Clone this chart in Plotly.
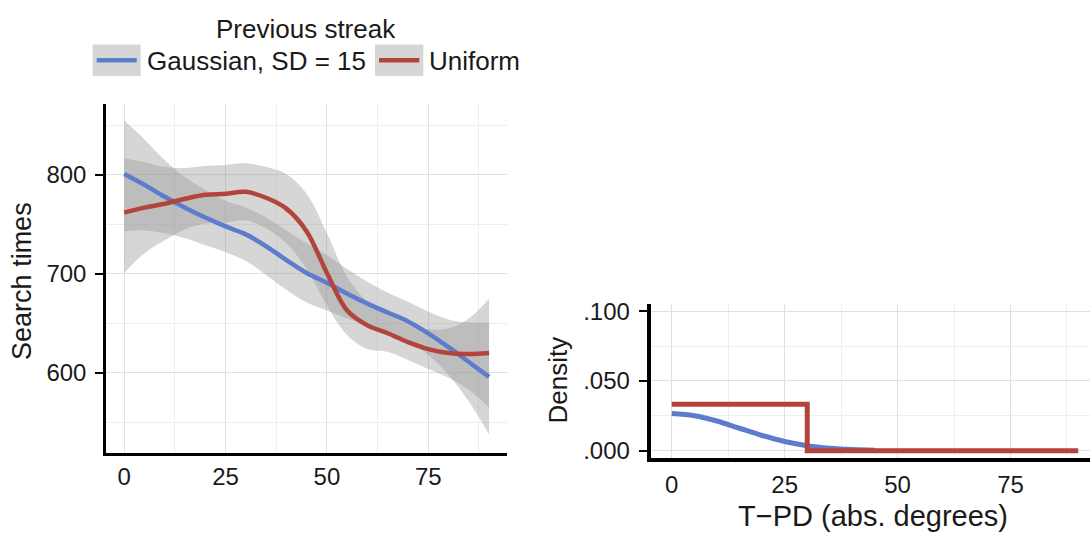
import plotly.graph_objects as go

# ---------------- data (left panel: smoothed search times) ----------------
x_deg = [0, 5, 10, 15, 20, 25, 30, 35, 40, 45, 50, 55, 60, 65, 70, 75, 80, 85, 90]
gauss_rt = [801, 790, 778, 767, 757, 748, 740, 728, 714, 701, 691, 680, 670, 661, 652, 640, 626, 611, 596]
gauss_lo = [743, 744, 741, 736, 729, 722, 713, 699, 684, 671, 663, 655, 648, 641, 632, 618, 598, 571, 538]
gauss_hi = [855, 836, 815, 798, 785, 774, 767, 757, 744, 731, 719, 705, 692, 681, 672, 662, 654, 651, 651]
unif_rt = [762, 767, 771, 776, 780, 781, 783, 777, 766, 743, 701, 663, 648, 640, 631, 624, 620, 619, 620]
unif_lo = [701, 721, 734, 745, 751, 752, 754, 746, 731, 705, 668, 638, 624, 621, 613, 604, 595, 583, 565]
unif_hi = [817, 813, 808, 807, 809, 810, 812, 808, 801, 781, 741, 697, 672, 659, 649, 644, 645, 655, 675]

# ---------------- data (right panel: densities) ----------------
dens_x = [0, 5, 10, 15, 20, 25, 30, 35, 40, 45]
gauss_dens = [0.0266, 0.0251, 0.0213, 0.0161, 0.0109, 0.0066, 0.0036, 0.0018, 0.0008, 0.0003]
unif_x = [0, 30, 90]
unif_dens = [0.0333, 0.0, 0.0]

left_xticks = [0, 25, 50, 75]
left_yticks = [600, 700, 800]
right_xticks = [0, 25, 50, 75]
right_yticks = [0.0, 0.05, 0.10]
right_yticktext = [".000", ".050", ".100"]

legend_title = "Previous streak"
series_names = ["Gaussian, SD = 15", "Uniform"]

BLUE = "#5b7dcb"
RED = "#b2443b"
RIBBON = "rgba(153,153,153,0.4)"
TXT = "#1a1a1a"
FONT = "Liberation Sans, Arial, Helvetica, sans-serif"
W, H = 1090, 538

fig = go.Figure()

# ribbons (lower edge, then upper edge filled down to it)
for lo, hi in [(gauss_lo, gauss_hi), (unif_lo, unif_hi)]:
    fig.add_trace(go.Scatter(x=x_deg, y=lo, mode="lines", line=dict(width=0, shape="spline"),
                             hoverinfo="skip", showlegend=False, xaxis="x", yaxis="y"))
    fig.add_trace(go.Scatter(x=x_deg, y=hi, mode="lines", fill="tonexty", fillcolor=RIBBON,
                             line=dict(width=0, shape="spline"), hoverinfo="skip", showlegend=False,
                             xaxis="x", yaxis="y"))
# lines
fig.add_trace(go.Scatter(x=x_deg, y=gauss_rt, mode="lines", line=dict(color=BLUE, width=4.5, shape="spline"),
                         name=series_names[0], showlegend=False, xaxis="x", yaxis="y"))
fig.add_trace(go.Scatter(x=x_deg, y=unif_rt, mode="lines", line=dict(color=RED, width=4.5, shape="spline"),
                         name=series_names[1], showlegend=False, xaxis="x", yaxis="y"))

# right panel
fig.add_trace(go.Scatter(x=dens_x, y=gauss_dens, mode="lines", line=dict(color=BLUE, width=5, shape="spline"),
                         name=series_names[0], showlegend=False, xaxis="x2", yaxis="y2"))
fig.add_trace(go.Scatter(x=unif_x, y=unif_dens, mode="lines", line=dict(color=RED, width=5, shape="hv"),
                         name=series_names[1], showlegend=False, xaxis="x2", yaxis="y2"))

GRID = "#e0e0e0"
MINOR = "#eeeeee"

def px(x):
    return x / W

def py(y):
    return (H - y) / H

common_tick = dict(tickfont=dict(family=FONT, size=24, color=TXT), ticks="outside", tickcolor="black",
                   tickwidth=2, showline=True, linecolor="black", zeroline=False, gridcolor=GRID,
                   gridwidth=1.2, showgrid=True)

left_x_dom = [px(106), px(507.3)]
right_x_dom = [px(651.4), 1.0]

fig.update_layout(
    width=W, height=H, margin=dict(l=0, r=0, t=0, b=0),
    paper_bgcolor="white", plot_bgcolor="white", showlegend=False,
    xaxis=dict(domain=left_x_dom, range=[-4.5, 94.5], anchor="y",
               tickmode="array", tickvals=left_xticks, linewidth=2.5,
               minor=dict(dtick=12.5, tick0=0, showgrid=True, gridcolor=MINOR, ticks=""),
               **{**common_tick, "ticks": ""}),
    # tick marks only (labels sit on the main axis, closer to the line like the reference)
    xaxis3=dict(domain=left_x_dom, range=[-4.5, 94.5], anchor="y", overlaying="x", matches="x",
                tickmode="array", tickvals=left_xticks, ticks="outside", ticklen=7, tickwidth=2,
                tickcolor="black", showticklabels=False, showgrid=False, showline=False, zeroline=False),
    yaxis=dict(domain=[py(457.3), py(100)], range=[518.9, 872], anchor="x",
               tickmode="array", tickvals=left_yticks, ticklen=8, linewidth=2.5, ticklabelstandoff=4,
               minor=dict(dtick=50, tick0=550, showgrid=True, gridcolor=MINOR, ticks=""), **common_tick),
    xaxis2=dict(domain=right_x_dom, range=[-4.5, 92.6], anchor="y2",
                tickmode="array", tickvals=right_xticks, linewidth=3.5, ticklabelstandoff=3,
                minor=dict(dtick=12.5, tick0=0, showgrid=True, gridcolor=MINOR, ticks=""),
                **{**common_tick, "ticks": ""}),
    xaxis4=dict(domain=right_x_dom, range=[-4.5, 92.6], anchor="y2", overlaying="x2", matches="x2",
                tickmode="array", tickvals=right_xticks, ticks="outside", ticklen=8, tickwidth=2,
                tickcolor="black", showticklabels=False, showgrid=False, showline=False, zeroline=False),
    yaxis2=dict(domain=[py(462), py(305)], range=[-0.005, 0.105], anchor="x2",
                tickmode="array", tickvals=right_yticks, ticktext=right_yticktext, ticklen=9, linewidth=3.5,
                ticklabelstandoff=4,
                minor=dict(dtick=0.025, tick0=0, showgrid=True, gridcolor=MINOR, ticks=""), **common_tick),
)

ann = []
# axis titles
ann.append(dict(text="Search times", x=px(22.5), y=py(281.7), xref="paper", yref="paper", textangle=-90,
                showarrow=False, xanchor="center", yanchor="middle", font=dict(family=FONT, size=27, color=TXT)))
ann.append(dict(text="Density", x=px(557.5), y=py(382.5), xref="paper", yref="paper", textangle=-90,
                showarrow=False, xanchor="center", yanchor="middle", font=dict(family=FONT, size=26, color=TXT)))
ann.append(dict(text="T\u2212PD (abs. degrees)", x=px(872.5), y=py(522), xref="paper", yref="paper",
                showarrow=False, xanchor="center", yanchor="middle", font=dict(family=FONT, size=29, color=TXT)))

# legend (drawn manually to mimic ggplot keys)
ann.append(dict(text=legend_title, x=px(306), y=py(24), xref="paper", yref="paper", showarrow=False,
                xanchor="center", yanchor="middle", font=dict(family=FONT, size=26, color=TXT)))
ann.append(dict(text=series_names[0], x=px(145), y=py(56), xref="paper", yref="paper", showarrow=False,
                xanchor="left", yanchor="middle", font=dict(family=FONT, size=26, color=TXT)))
ann.append(dict(text=series_names[1], x=px(427), y=py(56), xref="paper", yref="paper", showarrow=False,
                xanchor="left", yanchor="middle", font=dict(family=FONT, size=26, color=TXT)))

shapes = []
for (x0, x1), col in [((92.7, 140.7), BLUE), ((375, 423.3), RED)]:
    shapes.append(dict(type="rect", xref="paper", yref="paper", x0=px(x0), x1=px(x1), y0=py(71.7), y1=py(39.3),
                       fillcolor="#d6d6d6", line=dict(width=0), layer="below"))
    shapes.append(dict(type="line", xref="paper", yref="paper", x0=px(x0 + 4), x1=px(x1 - 4), y0=py(55.5),
                       y1=py(55.5), line=dict(color=col, width=4.5)))

fig.update_layout(annotations=ann, shapes=shapes)
fig.write_html("out.html", config={"displayModeBar": False},
               post_script="document.body.style.margin='0';document.body.style.overflow='hidden';")
